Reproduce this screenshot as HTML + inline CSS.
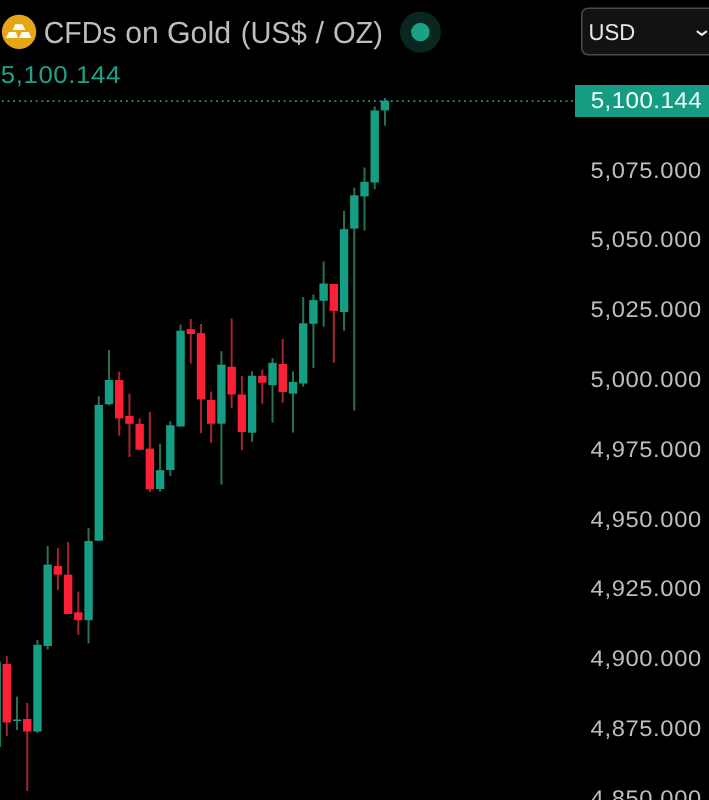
<!DOCTYPE html>
<html><head><meta charset="utf-8"><title>CFDs on Gold</title>
<style>
html,body{margin:0;padding:0;background:#000;}
body{width:709px;height:800px;position:relative;overflow:hidden;font-family:"Liberation Sans",sans-serif;}
svg{position:absolute;left:0;top:0;font-family:"Liberation Sans",sans-serif;text-rendering:geometricPrecision;}
</style></head><body>
<svg width="709" height="800" viewBox="0 0 709 800">
<line x1="0" y1="101" x2="575" y2="101" stroke="#1d9e86" stroke-width="1.75" stroke-dasharray="1.75 3.886" stroke-dashoffset="-2"/>
<rect x="-4.42" y="661.7" width="2.0" height="85.3" fill="#2a7152"/>
<rect x="-7.62" y="661.7" width="8.4" height="85.3" fill="#159e84"/>
<rect x="5.80" y="656.0" width="2.0" height="80.0" fill="#a3252f"/>
<rect x="2.60" y="664.0" width="8.4" height="58.5" fill="#fb2035"/>
<rect x="16.02" y="696.6" width="2.0" height="33.4" fill="#2a7152"/>
<rect x="12.82" y="719.5" width="8.4" height="1.5" fill="#159e84"/>
<rect x="26.24" y="703.0" width="2.0" height="88.0" fill="#a3252f"/>
<rect x="23.04" y="719.0" width="8.4" height="12.5" fill="#fb2035"/>
<rect x="36.46" y="640.0" width="2.0" height="92.6" fill="#2a7152"/>
<rect x="33.26" y="644.8" width="8.4" height="86.7" fill="#159e84"/>
<rect x="46.68" y="546.0" width="2.0" height="103.5" fill="#2a7152"/>
<rect x="43.48" y="564.6" width="8.4" height="81.4" fill="#159e84"/>
<rect x="56.90" y="548.0" width="2.0" height="42.0" fill="#a3252f"/>
<rect x="53.70" y="566.0" width="8.4" height="8.7" fill="#fb2035"/>
<rect x="67.12" y="541.8" width="2.0" height="72.2" fill="#a3252f"/>
<rect x="63.92" y="574.7" width="8.4" height="39.3" fill="#fb2035"/>
<rect x="77.34" y="591.6" width="2.0" height="43.3" fill="#a3252f"/>
<rect x="74.14" y="612.3" width="8.4" height="7.9" fill="#fb2035"/>
<rect x="87.56" y="527.9" width="2.0" height="115.5" fill="#2a7152"/>
<rect x="84.36" y="541.0" width="8.4" height="79.2" fill="#159e84"/>
<rect x="97.78" y="396.3" width="2.0" height="144.4" fill="#2a7152"/>
<rect x="94.58" y="404.9" width="8.4" height="135.8" fill="#159e84"/>
<rect x="108.00" y="350.0" width="2.0" height="55.3" fill="#2a7152"/>
<rect x="104.80" y="380.0" width="8.4" height="24.2" fill="#159e84"/>
<rect x="118.22" y="371.5" width="2.0" height="64.2" fill="#a3252f"/>
<rect x="115.02" y="380.0" width="8.4" height="38.4" fill="#fb2035"/>
<rect x="128.44" y="393.6" width="2.0" height="63.4" fill="#a3252f"/>
<rect x="125.24" y="416.0" width="8.4" height="7.8" fill="#fb2035"/>
<rect x="138.66" y="418.4" width="2.0" height="31.3" fill="#a3252f"/>
<rect x="135.46" y="423.8" width="8.4" height="25.9" fill="#fb2035"/>
<rect x="148.88" y="412.0" width="2.0" height="80.0" fill="#a3252f"/>
<rect x="145.68" y="448.6" width="8.4" height="40.7" fill="#fb2035"/>
<rect x="159.10" y="443.6" width="2.0" height="48.0" fill="#2a7152"/>
<rect x="155.90" y="470.2" width="8.4" height="18.8" fill="#159e84"/>
<rect x="169.32" y="421.2" width="2.0" height="54.8" fill="#2a7152"/>
<rect x="166.12" y="425.2" width="8.4" height="44.8" fill="#159e84"/>
<rect x="179.54" y="324.6" width="2.0" height="101.9" fill="#2a7152"/>
<rect x="176.34" y="330.7" width="8.4" height="95.8" fill="#159e84"/>
<rect x="189.76" y="319.0" width="2.0" height="44.6" fill="#a3252f"/>
<rect x="186.56" y="329.2" width="8.4" height="4.8" fill="#fb2035"/>
<rect x="199.98" y="324.0" width="2.0" height="109.2" fill="#a3252f"/>
<rect x="196.78" y="333.2" width="8.4" height="66.2" fill="#fb2035"/>
<rect x="210.20" y="391.5" width="2.0" height="51.4" fill="#a3252f"/>
<rect x="207.00" y="400.0" width="8.4" height="23.7" fill="#fb2035"/>
<rect x="220.42" y="351.2" width="2.0" height="133.3" fill="#2a7152"/>
<rect x="217.22" y="364.7" width="8.4" height="59.0" fill="#159e84"/>
<rect x="230.64" y="318.3" width="2.0" height="89.7" fill="#a3252f"/>
<rect x="227.44" y="366.8" width="8.4" height="27.7" fill="#fb2035"/>
<rect x="240.86" y="375.8" width="2.0" height="74.5" fill="#a3252f"/>
<rect x="237.66" y="394.5" width="8.4" height="37.5" fill="#fb2035"/>
<rect x="251.08" y="371.3" width="2.0" height="70.5" fill="#2a7152"/>
<rect x="247.88" y="375.8" width="8.4" height="56.9" fill="#159e84"/>
<rect x="261.30" y="369.6" width="2.0" height="34.6" fill="#a3252f"/>
<rect x="258.10" y="375.8" width="8.4" height="7.0" fill="#fb2035"/>
<rect x="271.52" y="357.9" width="2.0" height="64.7" fill="#2a7152"/>
<rect x="268.32" y="362.8" width="8.4" height="22.4" fill="#159e84"/>
<rect x="281.74" y="339.0" width="2.0" height="63.6" fill="#a3252f"/>
<rect x="278.54" y="363.9" width="8.4" height="28.1" fill="#fb2035"/>
<rect x="291.96" y="371.3" width="2.0" height="61.2" fill="#2a7152"/>
<rect x="288.76" y="381.9" width="8.4" height="11.7" fill="#159e84"/>
<rect x="302.18" y="297.0" width="2.0" height="89.8" fill="#2a7152"/>
<rect x="298.98" y="323.3" width="8.4" height="60.2" fill="#159e84"/>
<rect x="312.40" y="294.5" width="2.0" height="73.4" fill="#2a7152"/>
<rect x="309.20" y="300.1" width="8.4" height="23.7" fill="#159e84"/>
<rect x="322.62" y="261.4" width="2.0" height="65.3" fill="#2a7152"/>
<rect x="319.42" y="283.5" width="8.4" height="17.3" fill="#159e84"/>
<rect x="332.84" y="283.9" width="2.0" height="78.8" fill="#a3252f"/>
<rect x="329.64" y="283.9" width="8.4" height="27.0" fill="#fb2035"/>
<rect x="343.06" y="211.0" width="2.0" height="119.8" fill="#2a7152"/>
<rect x="339.86" y="229.1" width="8.4" height="82.9" fill="#159e84"/>
<rect x="353.28" y="187.7" width="2.0" height="222.8" fill="#2a7152"/>
<rect x="350.08" y="195.3" width="8.4" height="33.3" fill="#159e84"/>
<rect x="363.50" y="167.4" width="2.0" height="63.1" fill="#2a7152"/>
<rect x="360.30" y="181.8" width="8.4" height="14.6" fill="#159e84"/>
<rect x="373.72" y="106.4" width="2.0" height="82.8" fill="#2a7152"/>
<rect x="370.52" y="110.4" width="8.4" height="72.1" fill="#159e84"/>
<rect x="383.94" y="98.0" width="2.0" height="27.7" fill="#2a7152"/>
<rect x="380.74" y="100.7" width="8.4" height="9.7" fill="#159e84"/>
<!-- gold icon -->
<circle cx="19.05" cy="31.9" r="17.2" fill="#e6a417"/>
<g fill="#fffbee">
<path d="M15.2 24.3 L22.5 24.3 L25.4 30 L12.6 30 Z"/>
<path d="M8.9 31.9 L15.9 31.9 L18.2 37.9 L5.8 37.9 Z"/>
<path d="M21.6 31.9 L28.7 31.9 L31.6 37.9 L19 37.9 Z"/>
</g>
<!-- status -->
<circle cx="420.4" cy="32" r="20.5" fill="#09261f"/>
<circle cx="420.4" cy="32" r="9.3" fill="#18a288"/>
<!-- title -->
<g font-size="30.5" fill="#bebec1">
<text transform="translate(43.7,42.7) scale(0.935,1)">CFDs</text>
<text transform="translate(125.3,42.7) scale(0.985,1)">on</text>
<text transform="translate(167.0,42.7) scale(0.995,1)">Gold</text>
<text transform="translate(240.8,42.7) scale(0.95,1)">(US$</text>
<text transform="translate(315.5,42.7) scale(1.0,1)">/</text>
<text transform="translate(332.9,42.7) scale(0.955,1)">OZ)</text>
</g>
<!-- price under title -->
<text transform="translate(0.7,82.7) scale(1.06,1)" font-size="24.4" letter-spacing="0.55" fill="#20a189">5,100.144</text>
<!-- currency select -->
<rect x="581.75" y="8.25" width="140" height="46.5" rx="6.5" fill="#121212" stroke="#4a4a4c" stroke-width="1.5"/>
<text transform="translate(588.5,39.5) scale(0.96,1)" font-size="23" fill="#e6e6e6">USD</text>
<path d="M697.5 31.7 L701.85 34.9 L706.2 31.7" fill="none" stroke="#ececec" stroke-width="2.1" stroke-linecap="round" stroke-linejoin="round"/>
<!-- current price label -->
<rect x="575" y="85" width="134" height="32" fill="#159d83"/>
<text transform="translate(590.7,107.9) scale(1.06,1)" font-size="22.8" letter-spacing="0.41" fill="#f2fffb">5,100.144</text>
<!-- axis -->
<g font-size="22.6" letter-spacing="0.6" fill="#bebec1">
<text transform="translate(590.6,177.6) scale(1.05,1)">5,075.000</text>
<text transform="translate(590.6,247.4) scale(1.05,1)">5,050.000</text>
<text transform="translate(590.6,317.1) scale(1.05,1)">5,025.000</text>
<text transform="translate(590.6,386.9) scale(1.05,1)">5,000.000</text>
<text transform="translate(590.6,456.8) scale(1.05,1)">4,975.000</text>
<text transform="translate(590.6,526.5) scale(1.05,1)">4,950.000</text>
<text transform="translate(590.6,596.3) scale(1.05,1)">4,925.000</text>
<text transform="translate(590.6,666.1) scale(1.05,1)">4,900.000</text>
<text transform="translate(590.6,736.0) scale(1.05,1)">4,875.000</text>
<text transform="translate(590.6,805.8) scale(1.05,1)">4,850.000</text>
</g>
</svg>
</body></html>
